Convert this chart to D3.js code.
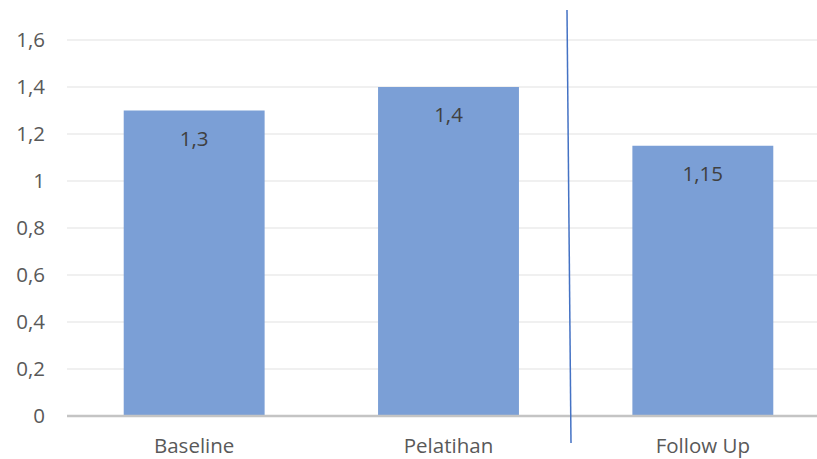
<!DOCTYPE html>
<html><head><meta charset="utf-8">
<script src="https://cdn.jsdelivr.net/npm/d3@7"></script>
<style>body{margin:0;background:#fff}svg{display:block}</style>
</head><body>
<svg id="c" width="817" height="459"></svg>
<script>
const categories = ["Baseline", "Pelatihan", "Follow Up"];
const values = [1.3, 1.4, 1.15];
const valueLabels = ["1,3", "1,4", "1,15"];
const yTicks = [0, 0.2, 0.4, 0.6, 0.8, 1, 1.2, 1.4, 1.6];
const yTickLabels = ["0", "0,2", "0,4", "0,6", "0,8", "1", "1,2", "1,4", "1,6"];

const svg = d3.select("#c");
const font = "'Open Sans', sans-serif";
const fs = 20.5;
const x = d3.scaleBand().domain(categories).range([67, 830]).paddingInner(0.446).paddingOuter(0.223);
const y = d3.scaleLinear().domain([0, 1.6]).range([416, 40]);

// gridlines
svg.append("g").selectAll("line").data(yTicks.slice(1)).join("line")
  .attr("x1", 67).attr("x2", 817)
  .attr("y1", d => y(d)).attr("y2", d => y(d))
  .attr("stroke", "#ebebeb").attr("stroke-width", 1.5);

// y tick labels
svg.append("g").selectAll("text").data(yTicks).join("text")
  .attr("x", 45).attr("y", d => y(d)).attr("dy", "0.36em")
  .attr("text-anchor", "end").attr("font-family", font).attr("font-size", fs)
  .attr("fill", "#595959").text((d, i) => yTickLabels[i]);

// bars
svg.append("g").selectAll("rect").data(values).join("rect")
  .attr("x", (d, i) => x(categories[i])).attr("width", x.bandwidth())
  .attr("y", d => y(d)).attr("height", d => y(0) - y(d))
  .attr("fill", "#7b9fd6");

// value labels
svg.append("g").selectAll("text").data(values).join("text")
  .attr("x", (d, i) => x(categories[i]) + x.bandwidth() / 2)
  .attr("y", d => y(d) + 28).attr("dy", "0.36em")
  .attr("text-anchor", "middle").attr("font-family", font).attr("font-size", fs)
  .attr("fill", "#404040").text((d, i) => valueLabels[i]);

// baseline
svg.append("line").attr("x1", 67).attr("x2", 817).attr("y1", y(0)).attr("y2", y(0))
  .attr("stroke", "#c4c4c4").attr("stroke-width", 2.5);

// category labels
svg.append("g").selectAll("text").data(categories).join("text")
  .attr("x", d => x(d) + x.bandwidth() / 2).attr("y", 446).attr("dy", "0.36em")
  .attr("text-anchor", "middle").attr("font-family", font).attr("font-size", fs)
  .attr("fill", "#595959").text(d => d);

// divider line between Pelatihan and Follow Up
svg.append("line").attr("x1", 567).attr("y1", 10).attr("x2", 571).attr("y2", 443)
  .attr("stroke", "#4472c4").attr("stroke-width", 1.5);
</script>
</body></html>
